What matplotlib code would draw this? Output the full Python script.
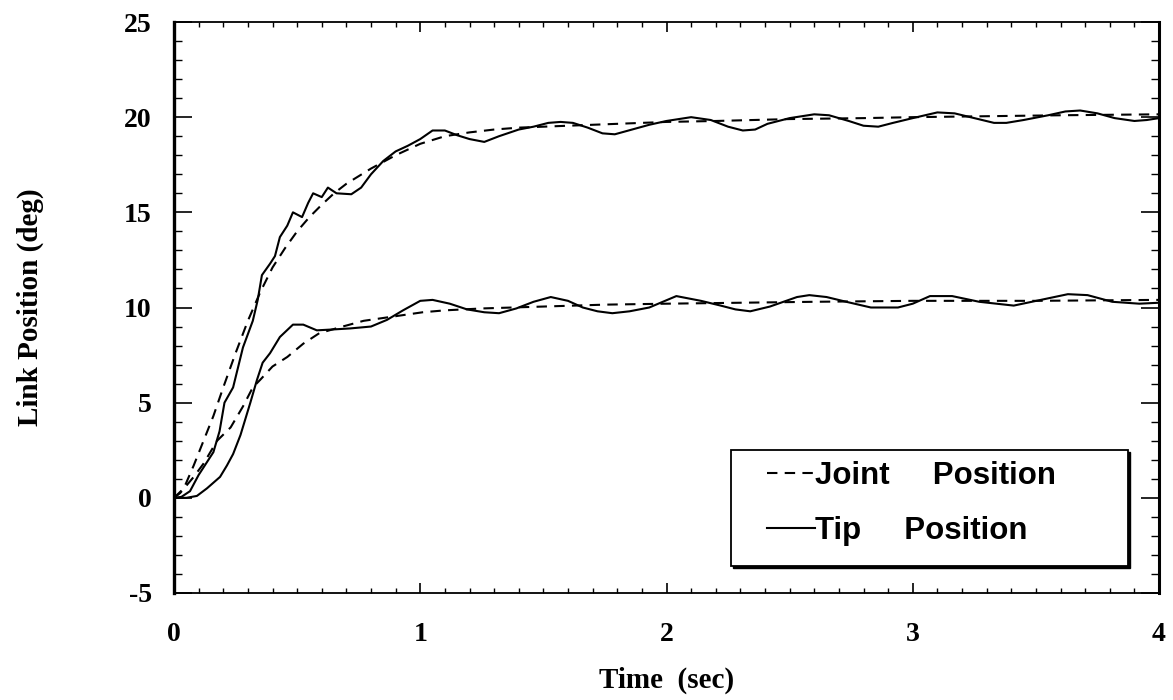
import matplotlib
matplotlib.use("Agg")
import matplotlib.pyplot as plt
from matplotlib.patches import Rectangle
from matplotlib.transforms import ScaledTranslation
from matplotlib.ticker import MultipleLocator, FixedLocator, FixedFormatter

# Step response of a flexible link: joint angle vs. tip angle for two set-points
t_joint_20 = [0, 0.04, 0.08, 0.12, 0.16, 0.2, 0.25, 0.3, 0.35, 0.4, 0.45, 0.5, 0.55,
              0.6, 0.65, 0.7, 0.75, 0.8, 0.85, 0.9, 0.95, 1.0, 1.1, 1.2, 1.3, 1.4, 1.5,
              1.6, 1.8, 2.0, 2.2, 2.5, 2.8, 3.0, 3.3, 3.6, 4.0]
y_joint_20 = [0, 0.5, 1.7, 3.0, 4.3, 5.8, 7.6, 9.3, 10.8, 12.1, 13.1, 14.0, 14.75,
              15.4, 16.0, 16.5, 16.9, 17.3, 17.65, 18.0, 18.3, 18.6, 19.0, 19.2, 19.35,
              19.45, 19.5, 19.55, 19.65, 19.75, 19.8, 19.9, 19.95, 20.0, 20.05, 20.1, 20.15]

t_tip_20 = [0, 0.03, 0.065, 0.1, 0.13, 0.16, 0.185, 0.205, 0.24, 0.28, 0.32, 0.34,
            0.357, 0.39, 0.41, 0.43, 0.46, 0.483, 0.52, 0.545, 0.565, 0.6, 0.625, 0.66,
            0.72, 0.76, 0.8, 0.85, 0.9, 0.95, 1.0, 1.05, 1.1, 1.15, 1.2, 1.26, 1.32,
            1.4, 1.46, 1.52, 1.57, 1.62, 1.68, 1.74, 1.79, 1.86, 1.93, 2.0, 2.1, 2.18,
            2.25, 2.31, 2.36, 2.41, 2.5, 2.6, 2.66, 2.74, 2.8, 2.86, 2.92, 3.0, 3.1,
            3.17, 3.25, 3.33, 3.38, 3.45, 3.55, 3.62, 3.68, 3.75, 3.82, 3.9, 3.95, 4.0]
y_tip_20 = [0, 0.05, 0.35, 1.2, 1.8, 2.4, 3.5, 5.0, 5.8, 7.9, 9.3, 10.4,
            11.7, 12.3, 12.7, 13.7, 14.3, 15.0, 14.75, 15.5, 16.0, 15.8, 16.3, 16.0,
            15.95, 16.3, 17.0, 17.7, 18.2, 18.5, 18.85, 19.3, 19.3, 19.05, 18.85, 18.7, 19.0,
            19.35, 19.5, 19.7, 19.75, 19.7, 19.45, 19.15, 19.1, 19.35, 19.6, 19.8, 20.0, 19.85,
            19.5, 19.3, 19.35, 19.65, 19.95, 20.15, 20.1, 19.8, 19.55, 19.5, 19.7, 19.95, 20.25,
            20.2, 19.95, 19.7, 19.7, 19.85, 20.1, 20.3, 20.35, 20.2, 19.95, 19.8, 19.85, 19.95]

t_joint_10 = [0, 0.025, 0.08, 0.12, 0.175, 0.23, 0.28, 0.32, 0.35, 0.4, 0.46, 0.525,
              0.59, 0.685, 0.77, 0.85, 0.93, 1.01, 1.1, 1.25, 1.5, 1.75, 2.0, 2.3, 2.6,
              3.0, 3.5, 4.0]
y_joint_10 = [0, 0.25, 1.1, 1.8, 3.0, 3.7, 4.8, 5.8, 6.2, 6.9, 7.4, 8.1,
              8.65, 9.0, 9.3, 9.45, 9.6, 9.75, 9.85, 9.95, 10.05, 10.15, 10.2, 10.25, 10.3,
              10.35, 10.35, 10.4]

t_tip_10 = [0, 0.05, 0.093, 0.134, 0.187, 0.215, 0.24, 0.27, 0.31, 0.337, 0.36, 0.39,
            0.43, 0.483, 0.525, 0.58, 0.65, 0.715, 0.8, 0.865, 0.93, 1.0, 1.05, 1.12,
            1.19, 1.26, 1.32, 1.39, 1.46, 1.53, 1.6, 1.66, 1.72, 1.78, 1.85, 1.93, 2.04,
            2.14, 2.22, 2.28, 2.34, 2.42, 2.53, 2.58, 2.65, 2.73, 2.83, 2.94, 3.0, 3.07,
            3.16, 3.27, 3.41, 3.52, 3.63, 3.71, 3.81, 3.92, 4.0]
y_tip_10 = [0, 0.0, 0.1, 0.5, 1.1, 1.7, 2.3, 3.3, 5.0, 6.2, 7.1, 7.6,
            8.45, 9.1, 9.1, 8.8, 8.85, 8.9, 9.0, 9.35, 9.85, 10.35, 10.4, 10.2,
            9.9, 9.75, 9.7, 9.95, 10.3, 10.55, 10.35, 10.0, 9.8, 9.7, 9.8, 10.0, 10.6,
            10.35, 10.1, 9.9, 9.8, 10.05, 10.55, 10.65, 10.55, 10.3, 10.0, 10.0, 10.2, 10.6,
            10.6, 10.3, 10.1, 10.4, 10.7, 10.65, 10.3, 10.2, 10.25]

x_ticks = [0, 1, 2, 3, 4]
x_tick_labels = ["0", "1", "2", "3", "4"]
y_ticks = [-5, 0, 5, 10, 15, 20, 25]
y_tick_labels = ["-5", "0", "5", "10", "15", "20", "25"]

serif = ["Liberation Serif", "DejaVu Serif"]
sans = ["Liberation Sans", "DejaVu Sans"]

fig = plt.figure(figsize=(11.73, 7.0), dpi=100)
ax = fig.add_axes([174 / 1173, 1 - 593 / 700, 985 / 1173, 571 / 700])

dash = (0, (5, 3.5))
lw = 1.5
ax.plot(t_joint_20, y_joint_20, color="black", lw=lw, linestyle=dash, label="Joint     Position")
ax.plot(t_tip_20, y_tip_20, color="black", lw=lw, label="Tip     Position")
ax.plot(t_joint_10, y_joint_10, color="black", lw=lw, linestyle=dash)
ax.plot(t_tip_10, y_tip_10, color="black", lw=lw)

ax.set_xlim(0, 4)
ax.set_ylim(-5, 25)

ax.xaxis.set_major_locator(FixedLocator(x_ticks))
ax.xaxis.set_major_formatter(FixedFormatter(x_tick_labels))
ax.yaxis.set_major_locator(FixedLocator(y_ticks))
ax.yaxis.set_major_formatter(FixedFormatter(y_tick_labels))
ax.xaxis.set_minor_locator(MultipleLocator(0.1))
ax.yaxis.set_minor_locator(MultipleLocator(1))

ax.tick_params(axis="both", which="both", direction="in", top=True, right=True,
               color="black")
ax.tick_params(axis="x", which="major", length=7.5, width=1.2, pad=21)
ax.tick_params(axis="x", which="minor", length=3.8, width=1.0)
ax.tick_params(axis="y", which="major", length=13, width=1.2, pad=16)
ax.tick_params(axis="y", which="minor", length=5.5, width=1.0)

for lab in ax.get_xticklabels() + ax.get_yticklabels():
    lab.set_fontfamily(serif)
    lab.set_fontweight("bold")
    lab.set_fontsize(20)

ax.spines["left"].set_linewidth(2.4)
ax.spines["right"].set_linewidth(2.2)
ax.spines["top"].set_linewidth(1.3)
ax.spines["bottom"].set_linewidth(1.3)

ax.set_xlabel("Time  (sec)", family=serif, fontweight="bold", fontsize=21, va="center")
ax.xaxis.set_label_coords(0.5, (593 - 680) / 571)
ax.set_ylabel("Link Position (deg)", family=serif, fontweight="bold", fontsize=21,
              va="center", ha="center")
ax.yaxis.set_label_coords((30 - 174) / 985, 0.5)

# Legend frame with a solid drop shadow on the lower/right edges
box_xy, box_w, box_h = (0.5655, 0.0473), 0.403, 0.2031
shadow_tr = ax.transAxes + ScaledTranslation(0.022, -0.022, fig.dpi_scale_trans)
ax.add_patch(Rectangle(box_xy, box_w, box_h, transform=shadow_tr,
                       facecolor="black", edgecolor="black", lw=1.0, zorder=4.9))
ax.add_patch(Rectangle(box_xy, box_w, box_h, transform=ax.transAxes,
                       facecolor="white", edgecolor="black", lw=1.3, zorder=5))

leg = ax.legend(loc="upper left", bbox_to_anchor=(0.602, 0.232),
                prop={"family": sans, "weight": "bold", "size": 22.5},
                handlelength=1.55, handletextpad=0.0, labelspacing=0.81,
                borderpad=0, borderaxespad=0, frameon=False)
leg.set_zorder(6)

fig.savefig("out.png", dpi=100, facecolor="white")
